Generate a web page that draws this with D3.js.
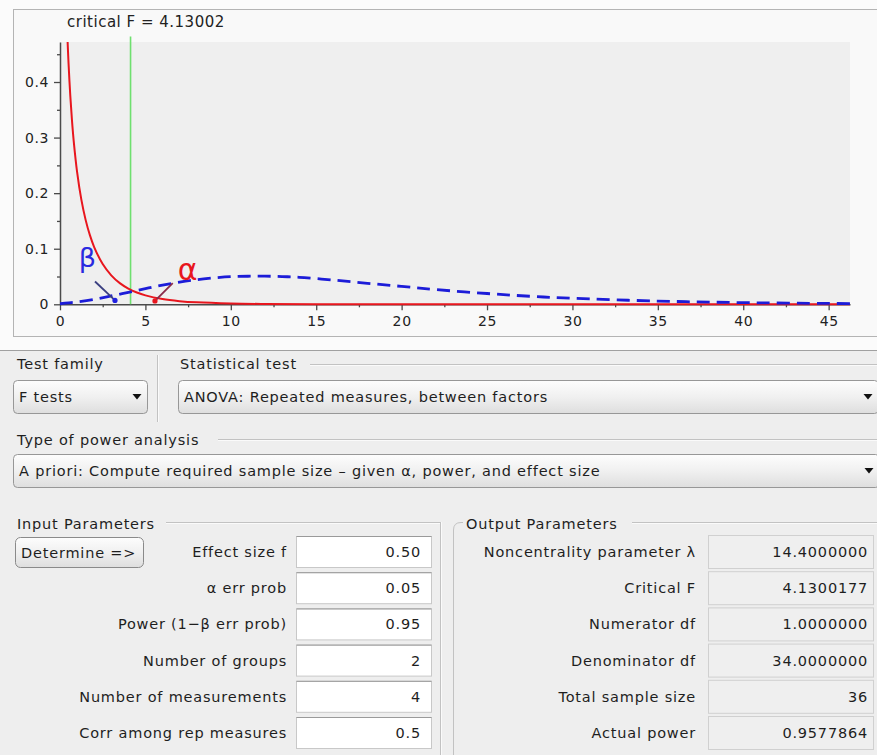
<!DOCTYPE html>
<html><head><meta charset="utf-8">
<script src="https://cdn.jsdelivr.net/npm/d3@7"></script>
<style>
html,body{margin:0;padding:0;background:#fff;}
svg{display:block;font-family:"DejaVu Sans",sans-serif;}
</style></head><body><div id="c"></div>
<script>
// ---------- data ----------
const xTickValues = [0,5,10,15,20,25,30,35,40,45];
const xMinorTicks = [2.5,7.5,12.5,17.5,22.5,27.5,32.5,37.5,42.5];
const yTickValues = [0,0.1,0.2,0.3,0.4];
const yMinorTicks = [0.05,0.15,0.25,0.35,0.45];
const criticalF = 4.13002;
const criticalLabel = "critical F = 4.13002";

const centralX = [0.4,0.45,0.5,0.6,0.7,0.8,1.0,1.25,1.5,1.75,2,2.5,3,3.5,4,4.5,5,6,7,8,10,12,15,20,30,46.25];
const centralY = [0.510,0.469,0.4338,0.3764,0.3313,0.2947,0.2384,0.1883,0.1519,0.1244,0.1030,0.0724,0.0521,0.0381,0.0283,0.0212,0.0160,0.0094,0.0057,0.0035,0.0014,0.0006,0.0002,0.00003,0,0];

const noncentralX = [0,0.5,1,2,3,4,5,6,7,8,9,10,11,12,13,14,16,18,20,22,25,27.5,30,35,40,46.25];
const noncentralY = [0.001,0.0025,0.0043,0.0090,0.0150,0.0216,0.0282,0.0345,0.0399,0.0443,0.0474,0.0497,0.0505,0.0506,0.0499,0.0486,0.0436,0.0378,0.0322,0.0265,0.0194,0.0145,0.0108,0.0058,0.0030,0.0013];

const testFamily = "F tests";
const statisticalTest = "ANOVA: Repeated measures, between factors";
const powerAnalysis = "A priori: Compute required sample size – given α, power, and effect size";

const inputLabels = ["Effect size f","α err prob","Power (1−β err prob)","Number of groups","Number of measurements","Corr among rep measures"];
const inputValues = ["0.50","0.05","0.95","2","4","0.5"];
const outputLabels = ["Noncentrality parameter λ","Critical F","Numerator df","Denominator df","Total sample size","Actual power"];
const outputValues = ["14.4000000","4.1300177","1.0000000","34.0000000","36","0.9577864"];

// ---------- svg ----------
const W = 877, H = 755;
const svg = d3.select("#c").append("svg").attr("width", W).attr("height", H);
const defs = svg.append("defs");
const g1 = defs.append("linearGradient").attr("id","combo").attr("x1",0).attr("y1",0).attr("x2",0).attr("y2",1);
g1.append("stop").attr("offset","0%").attr("stop-color","#fdfdfd");
g1.append("stop").attr("offset","50%").attr("stop-color","#f0f0f0");
g1.append("stop").attr("offset","100%").attr("stop-color","#dedede");

svg.append("rect").attr("width",W).attr("height",H).attr("fill","#fbfbfb");
svg.append("rect").attr("x",0).attr("y",350).attr("width",W).attr("height",H-350).attr("fill","#eeeeee");

// chart panel
svg.append("rect").attr("x",13.5).attr("y",9.5).attr("width",880).attr("height",327)
  .attr("fill","#f9f9f9").attr("stroke","#b4b4b4");

const xS = d3.scaleLinear().domain([0,46.25]).range([60,850]);
const yS = d3.scaleLinear().domain([0,0.472]).range([304.3,42]);

svg.append("rect").attr("x",xS(0)).attr("y",yS(0.472)).attr("width",xS(46.25)-xS(0)).attr("height",yS(0)-yS(0.472)).attr("fill","#efefef");

defs.append("clipPath").attr("id","pc").append("rect")
  .attr("x",xS(0)).attr("y",yS(0.472)).attr("width",xS(46.25)-xS(0)).attr("height",yS(0)-yS(0.472)+4);

// axes
const axColor = "#4a4a4a";
svg.append("g").attr("transform",`translate(0,${yS(0)})`)
  .call(d3.axisBottom(xS).tickValues(xTickValues).tickSize(6).tickSizeOuter(0).tickPadding(6).tickFormat(d3.format("d")));
svg.append("g").attr("transform",`translate(0,${yS(0)})`)
  .call(d3.axisBottom(xS).tickValues(xMinorTicks).tickSize(3).tickSizeOuter(0).tickFormat(""))
  .call(g=>g.select(".domain").remove());
svg.append("g").attr("transform",`translate(${xS(0)},0)`)
  .call(d3.axisLeft(yS).tickValues(yTickValues).tickSize(6).tickSizeOuter(0).tickPadding(5).tickFormat(d=>d===0?"0":d.toFixed(1)));
svg.append("g").attr("transform",`translate(${xS(0)},0)`)
  .call(d3.axisLeft(yS).tickValues(yMinorTicks).tickSize(3).tickSizeOuter(0).tickFormat(""))
  .call(g=>g.select(".domain").remove());
svg.selectAll(".domain").attr("stroke",axColor).attr("stroke-width",1.5);
svg.selectAll(".tick line").attr("stroke",axColor).attr("stroke-width",1.3);
svg.selectAll(".tick text").attr("font-size",14).attr("letter-spacing","0.6px").attr("fill","#222").attr("font-family","DejaVu Sans");

// critical line
svg.append("line").attr("x1",xS(criticalF)).attr("x2",xS(criticalF))
  .attr("y1",yS(0.482)).attr("y2",yS(0)).attr("stroke","#6fe06f").attr("stroke-width",1.6);
svg.append("text").attr("x",67).attr("y",27).attr("font-size",15).attr("letter-spacing","0.5px").attr("fill","#222").text(criticalLabel);

// curves
const cl = svg.append("g").attr("clip-path","url(#pc)");
const line = d3.line().x(d=>xS(d[0])).y(d=>yS(d[1])).curve(d3.curveCatmullRom);
cl.append("path").datum(centralX.map((x,i)=>[x,centralY[i]]))
  .attr("d",line).attr("fill","none").attr("stroke","#e8161e").attr("stroke-width",2);
cl.append("path").datum(noncentralX.map((x,i)=>[x,noncentralY[i]]))
  .attr("d",line).attr("fill","none").attr("stroke","#1c1cd8").attr("stroke-width",2.8).attr("stroke-dasharray","13,7");

// annotations
svg.append("text").attr("x",xS(1.1)).attr("y",yS(0.068)).attr("font-size",27).attr("fill","#2a2ae0").text("β");
svg.append("line").attr("x1",xS(2.05)).attr("y1",yS(0.041)).attr("x2",xS(3.22)).attr("y2",yS(0.007))
  .attr("stroke","#3a3f80").attr("stroke-width",1.8);
svg.append("circle").attr("cx",xS(3.22)).attr("cy",yS(0.007)).attr("r",2.6).attr("fill","#2020e0");
svg.append("text").attr("x",xS(6.9)).attr("y",yS(0.044)).attr("font-size",30).attr("fill","#e8161e").text("α");
svg.append("line").attr("x1",xS(5.56)).attr("y1",yS(0.006)).attr("x2",xS(6.6)).attr("y2",yS(0.038))
  .attr("stroke","#8a2a4a").attr("stroke-width",1.8);
svg.append("circle").attr("cx",xS(5.56)).attr("cy",yS(0.006)).attr("r",2.6).attr("fill","#e8161e");

// ---------- UI ----------
const ui = svg.append("g").attr("font-size",14.5).attr("letter-spacing","0.8px").attr("fill","#1e1e1e");
function hline(x1,x2,y){ ui.append("line").attr("x1",x1).attr("x2",x2).attr("y1",y+0.5).attr("y2",y+0.5).attr("stroke","#c2c2c2"); ui.append("line").attr("x1",x1).attr("x2",x2).attr("y1",y+1.5).attr("y2",y+1.5).attr("stroke","#fafafa"); }
function vline(x,y1,y2){ ui.append("line").attr("x1",x+0.5).attr("x2",x+0.5).attr("y1",y1).attr("y2",y2).attr("stroke","#c2c2c2"); ui.append("line").attr("x1",x+1.5).attr("x2",x+1.5).attr("y1",y1).attr("y2",y2).attr("stroke","#fafafa"); }
ui.append("line").attr("x1",0).attr("x2",W).attr("y1",350.5).attr("y2",350.5).attr("stroke","#a0a0a0");

function combo(x,y,w,h,text){
  ui.append("rect").attr("x",x+0.5).attr("y",y+0.5).attr("width",w).attr("height",h).attr("rx",4)
    .attr("fill","url(#combo)").attr("stroke","#979797");
  ui.append("text").attr("x",x+6).attr("y",y+h/2+5.5).text(text);
  const ax = x+w-10, ay = y+h/2;
  ui.append("path").attr("d",`M${ax-4.5},${ay-2.5}L${ax+4.5},${ay-2.5}L${ax},${ay+3}Z`).attr("fill","#111");
}
ui.append("text").attr("x",17).attr("y",369).text("Test family");
ui.append("text").attr("x",180).attr("y",369).text("Statistical test");
hline(310,W,364);
vline(157,355,422);
combo(13,380,134,33,testFamily);
combo(178,380,700,33,statisticalTest);

ui.append("text").attr("x",17).attr("y",445).text("Type of power analysis");
hline(218,W,439);
combo(13,454,866,33,powerAnalysis);

// Input parameters
ui.append("text").attr("x",17).attr("y",529).text("Input Parameters");
hline(166,440,522);
vline(440,522,H);
ui.append("rect").attr("x",15.5).attr("y",537.5).attr("width",128).attr("height",30).attr("rx",5)
  .attr("fill","url(#combo)").attr("stroke","#8a8a8a");
ui.append("text").attr("x",21).attr("y",558).text("Determine =>");

const rowTop = i => 536 + i*36.2;
inputLabels.forEach((lab,i)=>{
  const t = rowTop(i);
  ui.append("rect").attr("x",296.5).attr("y",t+0.5).attr("width",135).attr("height",31)
    .attr("fill","#ffffff").attr("stroke","#c8c8c8");
  ui.append("line").attr("x1",296.5).attr("x2",431.5).attr("y1",t+0.5).attr("y2",t+0.5).attr("stroke","#9a9a9a");
  ui.append("text").attr("x",287).attr("y",t+21).attr("text-anchor","end").text(lab);
  ui.append("text").attr("x",421).attr("y",t+21).attr("text-anchor","end").text(inputValues[i]);
});

// Output parameters
ui.append("path").attr("d",`M453.5,${H}L453.5,530Q453.5,522.5 461,522.5L463,522.5`).attr("fill","none").attr("stroke","#c2c2c2");
hline(632,W,522);
ui.append("text").attr("x",466).attr("y",529).text("Output Parameters");
outputLabels.forEach((lab,i)=>{
  const t = rowTop(i)-1;
  ui.append("rect").attr("x",708.5).attr("y",t+0.5).attr("width",165).attr("height",33)
    .attr("fill","#efefef").attr("stroke","#d0d0d0");
  ui.append("text").attr("x",696).attr("y",t+22).attr("text-anchor","end").text(lab);
  ui.append("text").attr("x",868).attr("y",t+22).attr("text-anchor","end").text(outputValues[i]);
});
</script></body></html>
